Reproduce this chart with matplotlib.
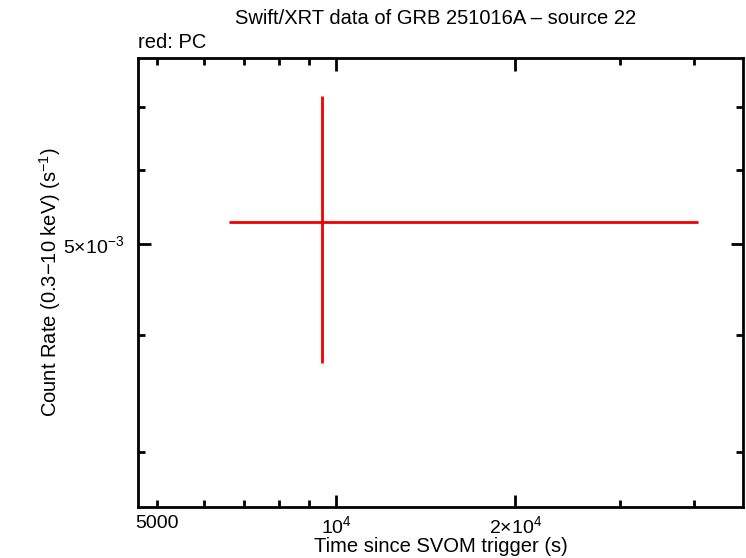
import numpy as np
import matplotlib
matplotlib.use("Agg")
import matplotlib.pyplot as plt
from matplotlib.ticker import FixedLocator, FixedFormatter, NullFormatter

plt.rcParams["font.family"] = ["Liberation Sans", "DejaVu Sans"]
plt.rcParams["mathtext.fontset"] = "custom"
plt.rcParams["mathtext.rm"] = "Liberation Sans"
plt.rcParams["mathtext.it"] = "Liberation Sans:italic"
plt.rcParams["mathtext.bf"] = "Liberation Sans:bold"

# PC mode point (time bin and count rate with bounds)
time = np.array([9468.0])
time_start = np.array([6598.0])
time_stop = np.array([40520.0])
rate = np.array([5.28e-3])
rate_low = np.array([3.73e-3])
rate_high = np.array([7.19e-3])

x_major = [1e4, 2e4]
x_major_labels = [r"$10^{4}$", r"$2{\times}10^{4}$"]
x_minor = [5000, 6000, 7000, 8000, 9000, 3e4, 4e4]
x_minor_labels = ["5000", "", "", "", "", "", ""]
y_major = [5e-3]
y_major_labels = [r"$5{\times}10^{-3}$"]
y_minor = [3e-3, 4e-3, 6e-3, 7e-3]

fig = plt.figure(figsize=(7.46, 5.58), dpi=100)
ax = fig.add_axes([138 / 746, 51 / 558, 605 / 746, 449 / 558])

red = "#f00000"
ax.errorbar(
    time,
    rate,
    xerr=[time - time_start, time_stop - time],
    yerr=[rate - rate_low, rate_high - rate],
    fmt="none",
    ecolor=red,
    elinewidth=2,
    capsize=0,
)

ax.set_xscale("log")
ax.set_yscale("log")
ax.set_xlim(4638, 48290)
ax.set_ylim(2.62e-3, 7.90e-3)

ax.xaxis.set_major_locator(FixedLocator(x_major))
ax.xaxis.set_major_formatter(FixedFormatter(x_major_labels))
ax.xaxis.set_minor_locator(FixedLocator(x_minor))
ax.xaxis.set_minor_formatter(FixedFormatter(x_minor_labels))
ax.yaxis.set_major_locator(FixedLocator(y_major))
ax.yaxis.set_major_formatter(FixedFormatter(y_major_labels))
ax.yaxis.set_minor_locator(FixedLocator(y_minor))
ax.yaxis.set_minor_formatter(NullFormatter())

ax.tick_params(which="both", direction="in", top=True, right=True,
               labelsize=14, width=2, pad=6)
ax.tick_params(axis="y", which="both", pad=10)
ax.tick_params(which="major", length=9)
ax.tick_params(which="minor", length=5)
for s in ax.spines.values():
    s.set_linewidth(2)

ax.set_xlabel("Time since SVOM trigger (s)", fontsize=14.5, labelpad=0)
ax.set_ylabel(r"Count Rate (0.3$-$10 keV) (s$^{-1}$)", fontsize=14.5, labelpad=0)
fig.text(436 / 746, 1 - 18 / 558, "Swift/XRT data of GRB 251016A \u2013 source 22",
         ha="center", va="center", fontsize=14.5)
fig.text(138 / 746, 1 - 43 / 558, "red: PC", ha="left", va="center", fontsize=14.5)

fig.savefig("out.png", dpi=100)
